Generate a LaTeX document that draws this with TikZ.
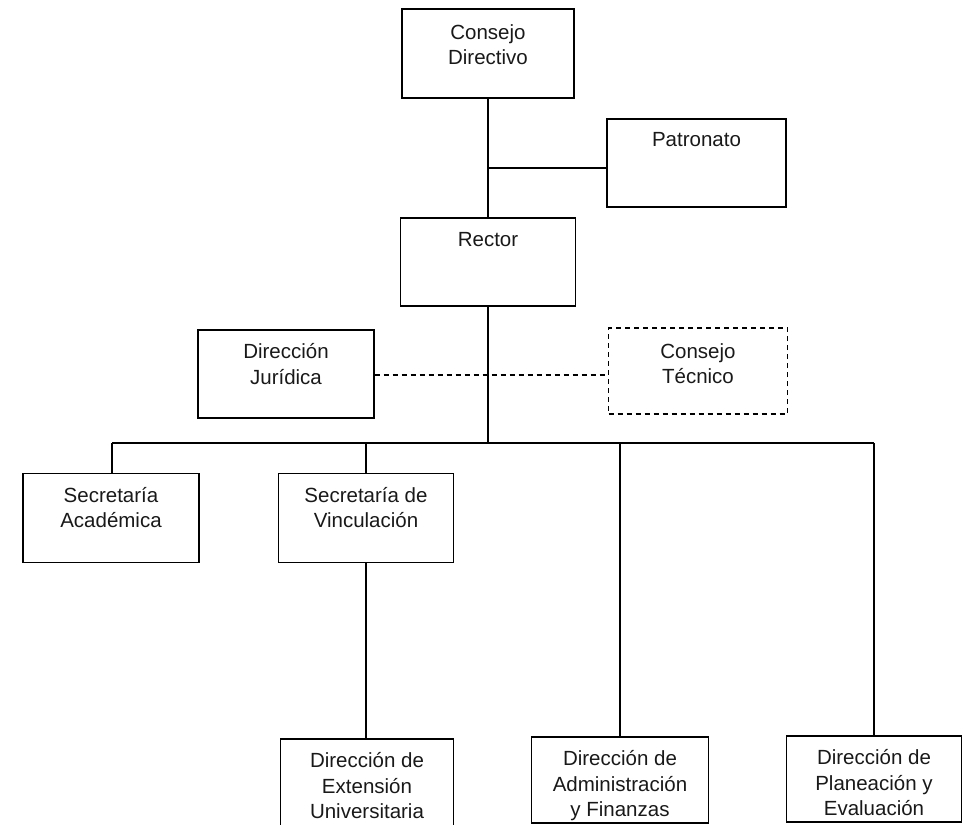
\documentclass[tikz,border=0pt]{standalone}
\usepackage{fontspec}
\setmainfont{Liberation Sans}
\begin{document}
\begin{tikzpicture}[x=1pt,y=-1pt,
  box/.style={draw=black,line width=1.4pt,rectangle,inner sep=0pt},
  dbox/.style={box,dash pattern=on 5pt off 4pt},
  txt/.style={anchor=north,inner sep=0pt,align=center,
    font=\fontsize{20.5}{25.5}\selectfont,text=black!90,
    execute at begin node={\rule{0pt}{15pt}}},
  conn/.style={draw=black,line width=1.4pt},
  dconn/.style={conn,dash pattern=on 5pt off 4pt}]
\useasboundingbox (0,0) rectangle (970,825);
% boxes
\node[box,minimum width=172pt,minimum height=89pt] (cd) at (488,53.5) {};
\node[txt] (cdt) at ([yshift=-16pt]cd.north) {Consejo\\Directivo};
\node[box,minimum width=179pt,minimum height=88pt] (pat) at (696.5,163) {};
\node[txt] (patt) at ([yshift=-13pt]pat.north) {Patronato};
\node[box,minimum width=175pt,minimum height=88pt] (rec) at (488,262) {};
\node[txt] (rect) at ([yshift=-14pt]rec.north) {Rector};
\node[box,minimum width=176pt,minimum height=88pt] (jur) at (286,374) {};
\node[txt] (jurt) at ([yshift=-14pt]jur.north) {Dirección\\Jurídica};
\node[dbox,minimum width=179pt,minimum height=86pt] (tec) at (698,371) {};
\node[txt] (tect) at ([yshift=-16pt]tec.north) {Consejo\\Técnico};
\node[box,minimum width=176pt,minimum height=89pt] (aca) at (111,518) {};
\node[txt] (acat) at ([yshift=-14pt]aca.north) {Secretaría\\Académica};
\node[box,minimum width=175pt,minimum height=89pt] (vin) at (366,518) {};
\node[txt] (vint) at ([yshift=-14pt]vin.north) {Secretaría de\\Vinculación};
\node[box,minimum width=173pt,minimum height=100pt] (ext) at (367,789) {};
\node[txt] (extt) at ([yshift=-14pt]ext.north) {Dirección de\\Extensión\\Universitaria};
\node[box,minimum width=177pt,minimum height=86pt] (adm) at (620,780) {};
\node[txt] (admt) at ([yshift=-14pt]adm.north) {Dirección de\\Administración\\y Finanzas};
\node[box,minimum width=175pt,minimum height=86pt] (pla) at (874,779) {};
\node[txt] (plat) at ([yshift=-14pt]pla.north) {Dirección de\\Planeación y\\Evaluación};
% junction coordinates
\coordinate (j1) at (488,168);
\coordinate (bus) at (488,443);
\coordinate (busL) at (112,443);
\coordinate (busR) at (874,443);
% connectors
\draw[conn] (cd.south) -- (rec.north);
\draw[conn] (j1) -- (j1 -| pat.west);
\draw[conn] (rec.south) -- (bus);
\draw[dconn] ([yshift=-1pt]jur.east) -- ([yshift=-1pt]jur.east -| tec.west);
\draw[conn] (busL) -- (busR);
\draw[conn] (busL) -- (busL |- aca.north);
\draw[conn] (vin.north |- bus) -- (vin.north);
\draw[conn] (vin.south) -- (vin.south |- ext.north);
\draw[conn] (adm.north |- bus) -- (adm.north);
\draw[conn] (busR) -- (busR |- pla.north);
\end{tikzpicture}
\end{document}
